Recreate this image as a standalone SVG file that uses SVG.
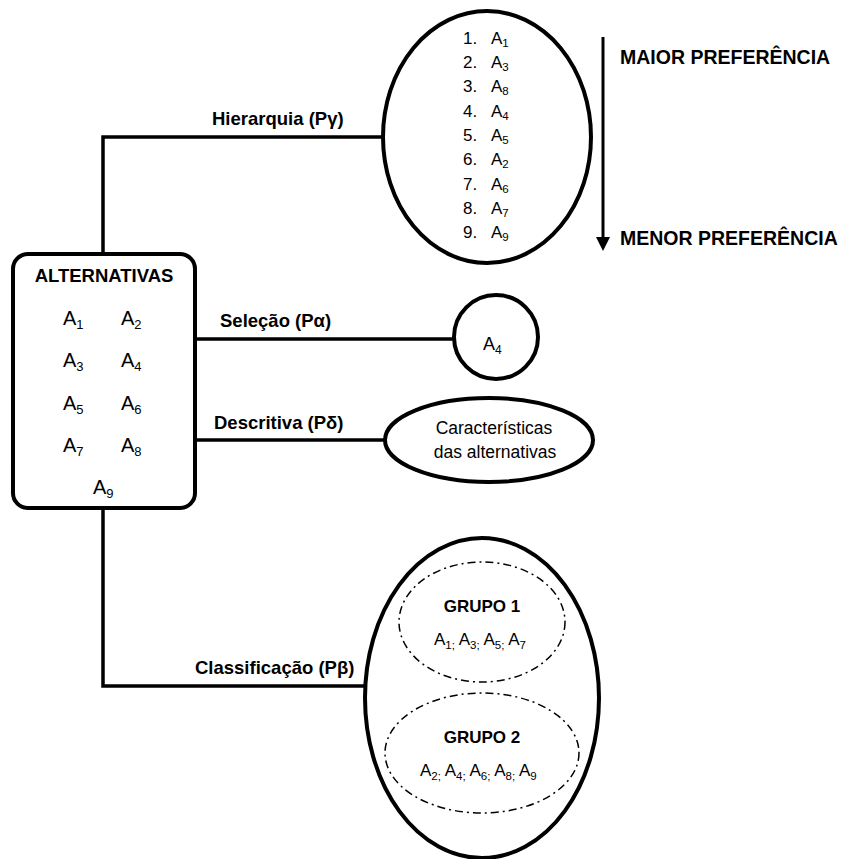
<svg xmlns="http://www.w3.org/2000/svg" width="842" height="859" viewBox="0 0 842 859">
<defs>
<style>
.ln{fill:none;stroke:#000;stroke-width:3.5}
.nd{fill:#fff;stroke:#000;stroke-width:4}
.dd{fill:none;stroke:#000;stroke-width:1.5;stroke-dasharray:8 4 2 4}
text{font-family:"Liberation Sans",Arial,sans-serif;fill:#000}
.b{font-weight:bold}
.lb{font-weight:bold;font-size:18.5px}
.big{font-weight:bold;font-size:19.5px}
.li{font-size:17px}
.ai{font-size:20px}
.tx{font-size:17.5px}
.gi{font-size:17px}
</style>
</defs>
<rect width="842" height="859" fill="#fff"/>

<g id="connectors">
<path class="ln" d="M103,253 V137 H385"/>
<path class="ln" d="M195,339 H454"/>
<path class="ln" d="M195,440 H386"/>
<path class="ln" d="M103,508 V686 H366"/>
<text class="lb" x="212" y="125">Hierarquia (Pγ)</text>
<text class="lb" x="220" y="327">Seleção (Pα)</text>
<text class="lb" x="214" y="429">Descritiva (Pδ)</text>
<text class="lb" x="195" y="674">Classificação (Pβ)</text>
</g>

<g id="alternativas">
<rect class="nd" x="13" y="254" width="182" height="254" rx="15"/>
<text class="b" x="104" y="282" text-anchor="middle" font-size="18.5">ALTERNATIVAS</text>
<g class="ai">
<text x="63" y="325">A<tspan font-size="13" dy="4">1</tspan></text>
<text x="121" y="325">A<tspan font-size="13" dy="4">2</tspan></text>
<text x="63" y="367">A<tspan font-size="13" dy="4">3</tspan></text>
<text x="121" y="367">A<tspan font-size="13" dy="4">4</tspan></text>
<text x="63" y="410">A<tspan font-size="13" dy="4">5</tspan></text>
<text x="121" y="410">A<tspan font-size="13" dy="4">6</tspan></text>
<text x="63" y="452">A<tspan font-size="13" dy="4">7</tspan></text>
<text x="121" y="452">A<tspan font-size="13" dy="4">8</tspan></text>
<text x="93" y="494">A<tspan font-size="13" dy="4">9</tspan></text>
</g>
</g>

<g id="hierarquia">
<ellipse class="nd" cx="487" cy="137" rx="104" ry="126"/>
<g class="li">
<text x="463" y="44">1.</text><text x="491" y="44">A<tspan font-size="11.5" dy="3">1</tspan></text>
<text x="463" y="68">2.</text><text x="491" y="68">A<tspan font-size="11.5" dy="3">3</tspan></text>
<text x="463" y="92">3.</text><text x="491" y="92">A<tspan font-size="11.5" dy="3">8</tspan></text>
<text x="463" y="117">4.</text><text x="491" y="117">A<tspan font-size="11.5" dy="3">4</tspan></text>
<text x="463" y="141">5.</text><text x="491" y="141">A<tspan font-size="11.5" dy="3">5</tspan></text>
<text x="463" y="165">6.</text><text x="491" y="165">A<tspan font-size="11.5" dy="3">2</tspan></text>
<text x="463" y="190">7.</text><text x="491" y="190">A<tspan font-size="11.5" dy="3">6</tspan></text>
<text x="463" y="214">8.</text><text x="491" y="214">A<tspan font-size="11.5" dy="3">7</tspan></text>
<text x="463" y="238">9.</text><text x="491" y="238">A<tspan font-size="11.5" dy="3">9</tspan></text>
</g>
</g>

<g id="preferencia">
<line x1="603" y1="37" x2="603" y2="238" stroke="#000" stroke-width="3"/>
<polygon points="596,237 610,237 603,251" fill="#000"/>
<text class="big" x="620" y="64">MAIOR PREFERÊNCIA</text>
<text class="big" x="620" y="245">MENOR PREFERÊNCIA</text>
</g>

<g id="selecao">
<circle class="nd" cx="496" cy="337" r="42"/>
<text x="483" y="350" font-size="18">A<tspan font-size="12" dy="4">4</tspan></text>
</g>

<g id="descritiva">
<ellipse class="nd" cx="489" cy="440" rx="104" ry="42"/>
<text class="tx" x="494" y="434" text-anchor="middle">Características</text>
<text class="tx" x="495" y="458" text-anchor="middle">das alternativas</text>
</g>

<g id="classificacao">
<ellipse class="nd" cx="482" cy="698" rx="117" ry="160"/>
<ellipse class="dd" cx="482" cy="622" rx="83" ry="60"/>
<ellipse class="dd" cx="482" cy="753" rx="97" ry="60"/>
<text class="b" x="482" y="612" text-anchor="middle" font-size="17">GRUPO 1</text>
<text class="gi" x="434" y="645">A<tspan font-size="11.5" dy="4">1;</tspan><tspan dy="-4"> A</tspan><tspan font-size="11.5" dy="4">3;</tspan><tspan dy="-4"> A</tspan><tspan font-size="11.5" dy="4">5;</tspan><tspan dy="-4"> A</tspan><tspan font-size="11.5" dy="4">7</tspan></text>
<text class="b" x="482" y="743" text-anchor="middle" font-size="17">GRUPO 2</text>
<text class="gi" x="420" y="776">A<tspan font-size="11.5" dy="4">2;</tspan><tspan dy="-4"> A</tspan><tspan font-size="11.5" dy="4">4;</tspan><tspan dy="-4"> A</tspan><tspan font-size="11.5" dy="4">6;</tspan><tspan dy="-4"> A</tspan><tspan font-size="11.5" dy="4">8;</tspan><tspan dy="-4"> A</tspan><tspan font-size="11.5" dy="4">9</tspan></text>
</g>
</svg>
